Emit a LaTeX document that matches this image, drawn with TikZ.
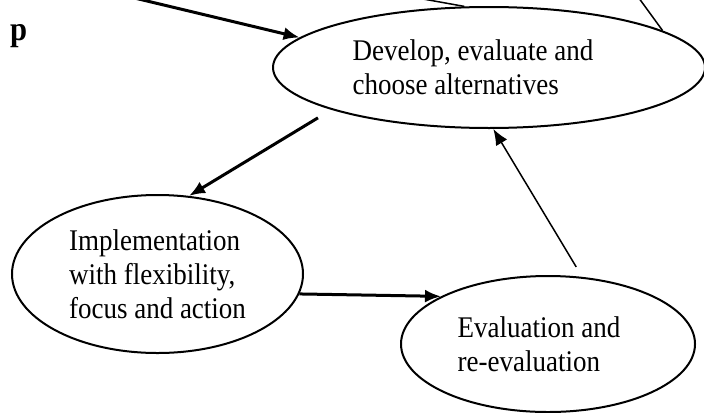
\documentclass[tikz,border=0pt]{standalone}
\usepackage{fontspec}
\setmainfont[FakeStretch=0.9]{Liberation Serif}
\usetikzlibrary{positioning,arrows.meta,shapes.geometric}

\begin{document}
\begin{tikzpicture}[x=0.5pt,y=-0.5pt,on grid,
  font=\fontsize{15}{17}\selectfont,
  >={Latex[length=8pt,width=6.5pt]},
  stage/.style={ellipse,draw,line width=1pt,inner sep=0pt,align=left},
  flow/.style={->,line width=1.5pt},
  fine/.style={line width=0.75pt}]
\useasboundingbox (0,0) rectangle (704,412);
\clip (0,0) rectangle (704,412);
% the three stages
\node[stage,minimum width=216pt,minimum height=60.5pt] (dev) at (489,67.5)
  {Develop, evaluate and\hspace*{16pt}\\choose alternatives};
\node[stage,minimum width=145.5pt,minimum height=79pt,below left=103.25pt and 165.75pt of dev] (impl)
  {Implementation\\with flexibility,\\focus and action};
\node[stage,minimum width=147pt,minimum height=68pt,below right=35pt and 195.25pt of impl] (eval)
  {Evaluation and\hspace*{9pt}\\re-evaluation};
\node[anchor=base west,font=\fontsize{17}{19}\selectfont\bfseries] (cut) at (3,40) {p};
% lines coming in from above
\coordinate (inL) at (101,-10);
\coordinate (inM) at (373,-10);
\coordinate (inR) at (633,-10);
\draw[flow] (inL) -- (dev.171);
\draw[fine] (inM) -- (dev.112);
\draw[fine] (inR) -- (dev.12);
% the loop
\draw[flow,shorten <=7.8pt] (dev.195) -- (impl.68);
\draw[flow] (impl.-8.5) -- (eval.156);
\draw[fine,->,shorten <=5.8pt] (eval.63) -- (dev.274);
\end{tikzpicture}
\end{document}
